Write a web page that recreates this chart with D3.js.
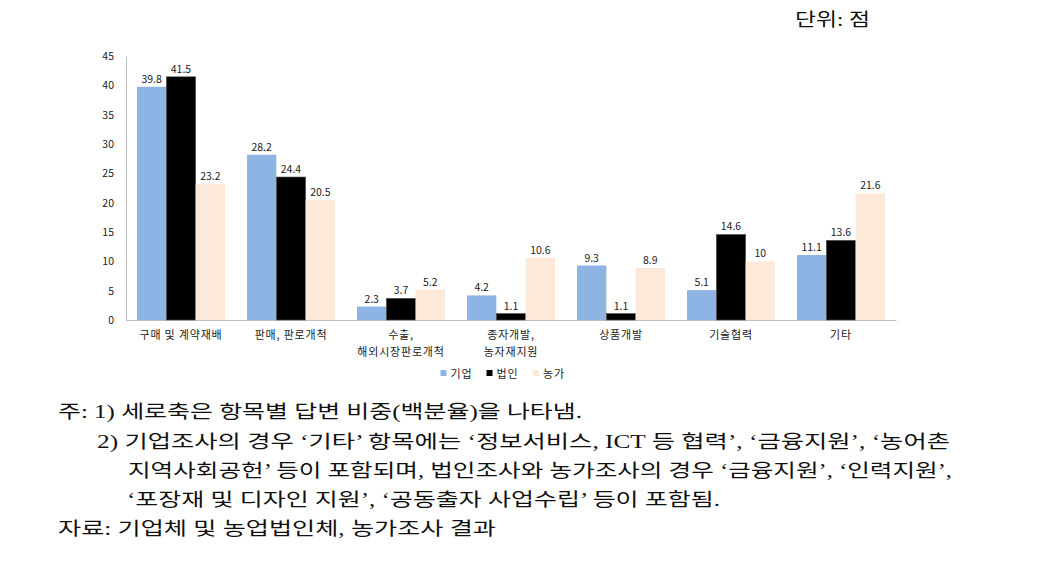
<!DOCTYPE html>
<html><head><meta charset="utf-8">
<script src="https://cdn.jsdelivr.net/npm/d3@7"></script>
<style>
body{margin:0;background:#fff;}
svg{display:block;}
</style></head>
<body>
<svg id="chart" width="1056" height="572"></svg>
<script>
const categories = ["구매 및 계약재배", "판매, 판로개척", "수출,\n해외시장판로개척", "종자개발,\n농자재지원", "상품개발", "기술협력", "기타"];
const seriesNames = ["기업", "법인", "농가"];
const values기업 = [39.8, 28.2, 2.3, 4.2, 9.3, 5.1, 11.1];
const values법인 = [41.5, 24.4, 3.7, 1.1, 1.1, 14.6, 13.6];
const values농가 = [23.2, 20.5, 5.2, 10.6, 8.9, 10, 21.6];
const valueLabels농가 = ["23.2", "20.5", "5.2", "10.6", "8.9", "10", "21.6"];
const yTicks = [0, 5, 10, 15, 20, 25, 30, 35, 40, 45];
const colors = ["#8EB4E3", "#000000", "#FDE9D9"];
const unitText = "단위: 점";
const notes = [
  "주: 1)  세로축은 항목별 답변 비중(백분율)을 나타냄.",
  "2)  기업조사의 경우 ‘기타’ 항목에는 ‘정보서비스, ICT 등 협력’, ‘금융지원’, ‘농어촌",
  "지역사회공헌’ 등이 포함되며, 법인조사와 농가조사의 경우 ‘금융지원’, ‘인력지원’,",
  "‘포장재 및 디자인 지원’, ‘공동출자 사업수립’ 등이 포함됨.",
  "자료: 기업체 및 농업법인체, 농가조사 결과"
];

(function () {
const series = [values기업, values법인, values농가];
const svg = d3.select("#chart");
const sansFont = "'Noto Sans CJK KR', 'Noto Sans', sans-serif";
const serifFont = "'Liberation Serif', 'Noto Sans CJK KR', serif";

const pL = 126, pR = 896, pT = 56.3, pB = 320;
const x0 = d3.scaleBand().domain(categories).range([pL, pR]).paddingInner(0.2).paddingOuter(0.1);
const x1 = d3.scaleBand().domain(d3.range(3)).range([0, x0.bandwidth()]);
const y = d3.scaleLinear().domain([0, 45]).range([pB, pT]);

const yAxis = d3.axisLeft(y).tickValues(yTicks).tickSize(0).tickPadding(12);
const gy = svg.append("g").attr("transform", `translate(${pL},0)`).call(yAxis);
gy.select(".domain").attr("stroke", "#bfbfbf");
gy.selectAll("text").attr("font-family", sansFont).attr("font-size", 10.5).attr("fill", "#222");

const xAxis = d3.axisBottom(x0).tickSize(0).tickFormat("");
const gx = svg.append("g").attr("transform", `translate(0,${pB})`).call(xAxis);
gx.select(".domain").attr("stroke", "#bfbfbf");

categories.forEach(c => {
  const lines = c.split("\n");
  const cx = x0(c) + x0.bandwidth() / 2;
  const t = svg.append("text")
    .attr("x", cx).attr("y", 339)
    .attr("text-anchor", "middle")
    .attr("font-family", sansFont)
    .attr("font-size", 11)
    .attr("letter-spacing", 0.8)
    .attr("fill", "#222");
  lines.forEach((l, i) => {
    t.append("tspan").attr("x", cx).attr("dy", i === 0 ? 0 : 17).text(l);
  });
});

series.forEach((vals, si) => {
  const g = svg.append("g");
  g.selectAll("rect").data(vals).join("rect")
    .attr("x", (d, i) => x0(categories[i]) + x1(si))
    .attr("y", d => y(d))
    .attr("width", x1.bandwidth())
    .attr("height", d => pB - y(d))
    .attr("fill", colors[si])
    .attr("stroke", si === 1 ? "#555" : "none")
    .attr("stroke-width", 0.6);
  g.selectAll("text").data(vals).join("text")
    .attr("x", (d, i) => x0(categories[i]) + x1(si) + x1.bandwidth() / 2)
    .attr("y", d => y(d) - 4)
    .attr("text-anchor", "middle")
    .attr("font-family", sansFont)
    .attr("font-size", 10.5)
    .attr("fill", "#222")
    .text((d, i) => si === 2 ? valueLabels농가[i] : d3.format(".1f")(d));
});

const legendX = [440.5, 486.5, 533];
seriesNames.forEach((n, i) => {
  svg.append("rect").attr("x", legendX[i]).attr("y", 370).attr("width", 6).attr("height", 6).attr("fill", colors[i]);
  svg.append("text").attr("x", legendX[i] + 10).attr("y", 377.5)
    .attr("font-family", sansFont).attr("font-size", 11).attr("letter-spacing", 0.8).attr("fill", "#222").text(n);
});

svg.append("text").attr("x", 795).attr("y", 26).attr("font-family", serifFont).attr("font-size", 18)
  .attr("textLength", 75).attr("lengthAdjust", "spacingAndGlyphs").attr("fill", "#111").text(unitText);

const noteX = [58, 97, 128, 127, 58];
const noteEnd = [582, 950, 952, 720, 496];
const noteY = [411, 441, 470, 499, 528];
notes.forEach((n, i) => {
  svg.append("text").attr("x", noteX[i]).attr("y", noteY[i]).attr("dy", "0.36em")
    .attr("font-family", serifFont).attr("font-size", 18.5).attr("fill", "#111")
    .attr("textLength", noteEnd[i] - noteX[i]).attr("lengthAdjust", "spacingAndGlyphs")
    .text(n);
});
})();
</script>
</body></html>
